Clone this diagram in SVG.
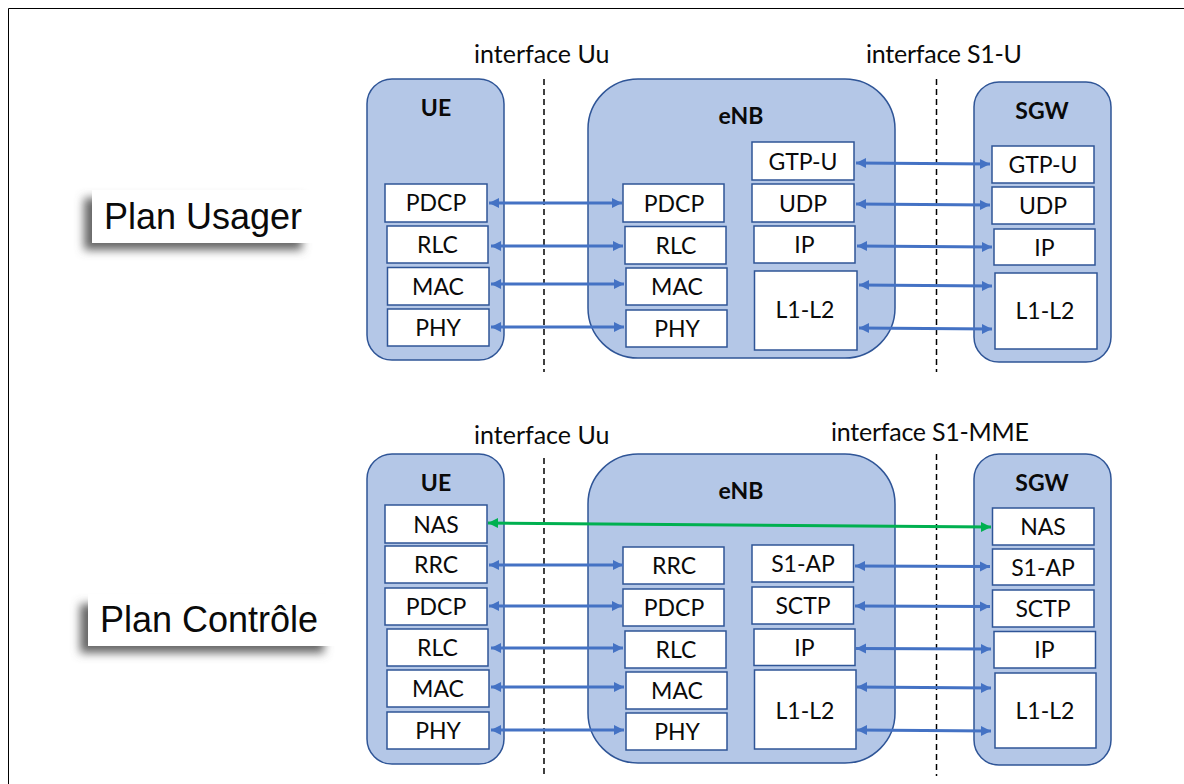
<svg xmlns="http://www.w3.org/2000/svg" width="1184" height="784" viewBox="0 0 1184 784">
<style>
text{font-family:"Lato","Open Sans","Liberation Sans",sans-serif;fill:#0a0a0a;text-anchor:middle}
.c{fill:#b4c7e7;stroke:#2f5597;stroke-width:1.5}
.b{fill:#fff;stroke:#2f5597;stroke-width:1.5}
.l{font-size:23px}
.h{font-size:23px;font-weight:700}
.i{font-size:25px;text-anchor:start}
.p{font-family:"Liberation Sans",Arial,sans-serif;font-size:36px;text-anchor:start}
.d{stroke:#000;stroke-width:1.5;stroke-dasharray:6 4;fill:none}
.a{stroke:#4472c4;stroke-width:3;fill:none;marker-start:url(#ab);marker-end:url(#ab)}
.g{stroke:#00b050;stroke-width:3;fill:none;marker-start:url(#ag);marker-end:url(#ag)}
</style>
<defs>
<marker id="ab" markerUnits="userSpaceOnUse" markerWidth="12" markerHeight="12" refX="10" refY="6" orient="auto-start-reverse"><path d="M0 1L10 6L0 11Z" fill="#4472c4"/></marker>
<marker id="ag" markerUnits="userSpaceOnUse" markerWidth="12" markerHeight="12" refX="10" refY="6" orient="auto-start-reverse"><path d="M0 1L10 6L0 11Z" fill="#00b050"/></marker>
<filter id="s" x="-15%" y="-30%" width="130%" height="170%"><feGaussianBlur stdDeviation="5"/></filter>
</defs>
<rect width="1184" height="784" fill="#fff"/>
<path d="M8.500 784V8.500H1184" fill="none" stroke="#000" stroke-width="1"/>

<g id="plan-usager"><rect x="84" y="198" width="218" height="52" fill="#666" filter="url(#s)"/><rect x="92" y="190" width="226" height="53" fill="#fff"/><text class="p" x="104" y="229">Plan Usager</text></g>
<g id="plan-controle"><rect x="80" y="604" width="244" height="49" fill="#666" filter="url(#s)"/><rect x="88" y="594" width="250" height="52" fill="#fff"/><text class="p" x="100" y="632">Plan Contrôle</text></g>

<g id="ue-u"><rect class="c" x="367" y="79" width="137" height="281" rx="25"/><text class="h" x="436" y="116">UE</text></g>
<g id="enb-u"><rect class="c" x="588" y="79" width="307" height="279" rx="50"/><text class="h" x="741" y="124">eNB</text></g>
<g id="sgw-u"><rect class="c" x="974" y="82" width="137" height="280" rx="25"/><text class="h" x="1042" y="119">SGW</text></g>
<g id="ue-c"><rect class="c" x="367" y="454" width="137" height="310" rx="25"/><text class="h" x="436" y="491">UE</text></g>
<g id="enb-c"><rect class="c" x="588" y="454" width="307" height="309" rx="50"/><text class="h" x="741" y="499">eNB</text></g>
<g id="sgw-c"><rect class="c" x="974" y="454" width="137" height="311" rx="25"/><text class="h" x="1042" y="491">SGW</text></g>

<g id="u-ue-pdcp"><rect class="b" x="385" y="184" width="102" height="38"/><text class="l" x="436" y="211">PDCP</text></g>
<g id="u-ue-rlc"><rect class="b" x="387" y="226" width="101" height="37"/><text class="l" x="437.500" y="253">RLC</text></g>
<g id="u-ue-mac"><rect class="b" x="387.500" y="267.500" width="101.500" height="37.500"/><text class="l" x="438" y="295">MAC</text></g>
<g id="u-ue-phy"><rect class="b" x="387.500" y="309" width="101.500" height="37"/><text class="l" x="438" y="336">PHY</text></g>
<g id="u-enb-pdcp"><rect class="b" x="623" y="184" width="101" height="38"/><text class="l" x="674" y="212">PDCP</text></g>
<g id="u-enb-rlc"><rect class="b" x="625" y="226.500" width="101" height="37.500"/><text class="l" x="676" y="254">RLC</text></g>
<g id="u-enb-mac"><rect class="b" x="626" y="268" width="101" height="37"/><text class="l" x="677" y="295">MAC</text></g>
<g id="u-enb-phy"><rect class="b" x="626" y="310" width="101" height="37"/><text class="l" x="677" y="337">PHY</text></g>
<g id="u-enb-gtp"><rect class="b" x="752" y="142" width="102" height="38"/><text class="l" x="803" y="170">GTP-U</text></g>
<g id="u-enb-udp"><rect class="b" x="752" y="184" width="102" height="38"/><text class="l" x="803" y="212">UDP</text></g>
<g id="u-enb-ip"><rect class="b" x="754" y="226" width="101" height="37"/><text class="l" x="804.500" y="253">IP</text></g>
<g id="u-enb-l"><rect class="b" x="754.500" y="271" width="102.500" height="79"/><text class="l" x="805" y="318">L1-L2</text></g>
<g id="u-sgw-gtp"><rect class="b" x="992" y="146" width="102" height="37"/><text class="l" x="1043" y="173">GTP-U</text></g>
<g id="u-sgw-udp"><rect class="b" x="992" y="187" width="102" height="37"/><text class="l" x="1043" y="214">UDP</text></g>
<g id="u-sgw-ip"><rect class="b" x="994" y="229" width="101" height="36"/><text class="l" x="1044.500" y="256">IP</text></g>
<g id="u-sgw-l"><rect class="b" x="995" y="273" width="102" height="76"/><text class="l" x="1045" y="319">L1-L2</text></g>

<g id="c-ue-nas"><rect class="b" x="385" y="505" width="102" height="38"/><text class="l" x="436" y="533">NAS</text></g>
<g id="c-ue-rrc"><rect class="b" x="385" y="546" width="102" height="37"/><text class="l" x="436" y="573">RRC</text></g>
<g id="c-ue-pdcp"><rect class="b" x="385" y="588" width="102" height="37"/><text class="l" x="436" y="615">PDCP</text></g>
<g id="c-ue-rlc"><rect class="b" x="387" y="629" width="101" height="37"/><text class="l" x="437.500" y="656">RLC</text></g>
<g id="c-ue-mac"><rect class="b" x="387" y="670" width="102" height="37"/><text class="l" x="438" y="697">MAC</text></g>
<g id="c-ue-phy"><rect class="b" x="387" y="712" width="102" height="37"/><text class="l" x="438" y="739">PHY</text></g>
<g id="c-enb-rrc"><rect class="b" x="623" y="547" width="101" height="37"/><text class="l" x="674" y="574">RRC</text></g>
<g id="c-enb-pdcp"><rect class="b" x="623" y="589" width="101" height="37"/><text class="l" x="674" y="616">PDCP</text></g>
<g id="c-enb-rlc"><rect class="b" x="625" y="631" width="101" height="37"/><text class="l" x="676" y="658">RLC</text></g>
<g id="c-enb-mac"><rect class="b" x="626" y="672" width="101" height="37"/><text class="l" x="677" y="699">MAC</text></g>
<g id="c-enb-phy"><rect class="b" x="626" y="713" width="101" height="37"/><text class="l" x="677" y="740">PHY</text></g>
<g id="c-enb-s1"><rect class="b" x="752" y="545" width="101.500" height="37"/><text class="l" x="803" y="572">S1-AP</text></g>
<g id="c-enb-sctp"><rect class="b" x="752" y="587" width="101.500" height="37"/><text class="l" x="803" y="614">SCTP</text></g>
<g id="c-enb-ip"><rect class="b" x="754" y="629" width="101" height="36.500"/><text class="l" x="804.500" y="656">IP</text></g>
<g id="c-enb-l"><rect class="b" x="754.500" y="670" width="101.500" height="79"/><text class="l" x="805" y="719">L1-L2</text></g>
<g id="c-sgw-nas"><rect class="b" x="992.500" y="508" width="101.500" height="37"/><text class="l" x="1043" y="535">NAS</text></g>
<g id="c-sgw-s1"><rect class="b" x="992.500" y="549" width="101.500" height="36"/><text class="l" x="1043" y="576">S1-AP</text></g>
<g id="c-sgw-sctp"><rect class="b" x="992.500" y="590" width="101.500" height="37"/><text class="l" x="1043" y="617">SCTP</text></g>
<g id="c-sgw-ip"><rect class="b" x="994" y="631.500" width="101.500" height="36.500"/><text class="l" x="1044.500" y="658">IP</text></g>
<g id="c-sgw-l"><rect class="b" x="995" y="673" width="101" height="75"/><text class="l" x="1045" y="719">L1-L2</text></g>

<g id="labels"><text class="i" x="474" y="63">interface Uu</text><text class="i" x="866" y="63" textLength="156">interface S1-U</text><text class="i" x="474" y="444">interface Uu</text><text class="i" x="831" y="441" textLength="198">interface S1-MME</text></g>

<g id="connectors">
<path class="d" d="M544 79V372M936.500 79V372M544 458V774M936.500 454V776"/>
<path class="a" d="M489 203H622"/><path class="a" d="M491 246H623"/><path class="a" d="M491 284H624"/><path class="a" d="M491 327H624"/>
<path class="a" d="M856 163L990 164"/><path class="a" d="M856 204L990 205"/><path class="a" d="M857 246L992 247"/><path class="a" d="M859 285L992 286"/><path class="a" d="M859 328L992 329"/>
<path class="g" d="M488 523L991 527"/>
<path class="a" d="M489 565H623"/><path class="a" d="M489 606H622"/><path class="a" d="M491 648H623"/><path class="a" d="M491 687H624"/><path class="a" d="M491 730H624"/>
<path class="a" d="M855 566L990 566.500"/><path class="a" d="M855 606L990 606.500"/><path class="a" d="M856 648.500L991 649"/><path class="a" d="M857 687L991 688"/><path class="a" d="M857 730L991 731"/>
</g>
</svg>
